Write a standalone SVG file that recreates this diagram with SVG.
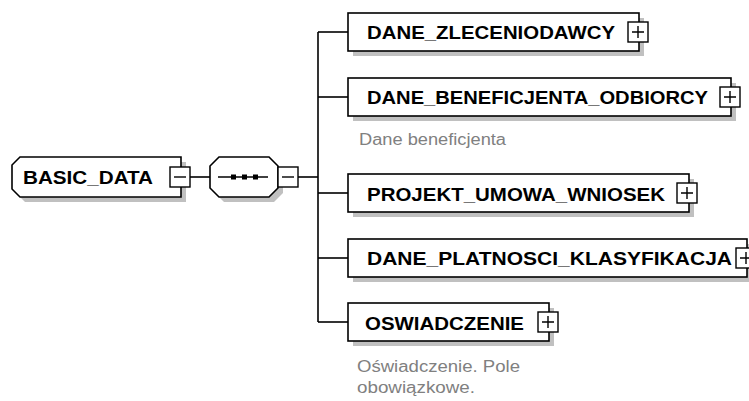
<svg xmlns="http://www.w3.org/2000/svg" width="749" height="401" viewBox="0 0 749 401">
<style>
.shadow{fill:#c0c0c0;stroke:none}
.box{fill:#ffffff;stroke:#000000;stroke-width:1.6}
.btn{fill:#ffffff;stroke:#000000;stroke-width:1.4}
.sym{stroke:#000000;stroke-width:1.4;fill:none}
.lbl{font-family:"Liberation Sans",Arial,sans-serif;font-weight:bold;font-size:19px;fill:#000000}
.doc{font-family:"Liberation Sans",Arial,sans-serif;font-size:16px;fill:#808080}
.conn{stroke:#000000;stroke-width:1.6;fill:none}
</style>
<rect width="749" height="401" fill="#ffffff"/>
<g id="connectors">
<line class="conn" x1="190" y1="177" x2="210" y2="177"/>
<line class="conn" x1="298" y1="177" x2="318" y2="177"/>
<line class="conn" x1="318" y1="32" x2="318" y2="322"/>
<line class="conn" x1="318" y1="32" x2="348" y2="32"/>
<line class="conn" x1="318" y1="97" x2="348" y2="97"/>
<line class="conn" x1="318" y1="193" x2="348" y2="193"/>
<line class="conn" x1="318" y1="258" x2="348" y2="258"/>
<line class="conn" x1="318" y1="322" x2="348" y2="322"/>
</g>
<g id="basic_data">
<path class="shadow" d="M25,162 H186 V202 H25 L17,194 V170 Z"/>
<path class="box" d="M20,157 H181 V197 H20 L12,189 V165 Z"/>
<text class="lbl" x="23" y="184" textLength="130" lengthAdjust="spacingAndGlyphs">BASIC_DATA</text>
<rect class="btn" x="170" y="167" width="20" height="20"/>
<line class="sym" x1="174" y1="177" x2="186" y2="177"/>
</g>
<g id="sequence">
<path class="shadow" d="M224,162 H274 L283,171 V193 L274,202 H224 L215,193 V171 Z"/>
<path class="box" d="M219,157 H269 L278,166 V188 L269,197 H219 L210,188 V166 Z"/>
<line class="sym" x1="218" y1="177" x2="268" y2="177"/>
<rect x="231" y="174.5" width="5" height="5" fill="#000"/>
<rect x="242" y="174.5" width="5" height="5" fill="#000"/>
<rect x="253" y="174.5" width="5" height="5" fill="#000"/>
<rect class="btn" x="278" y="167" width="20" height="20"/>
<line class="sym" x1="282" y1="177" x2="294" y2="177"/>
</g>
<g id="dane_zleceniodawcy">
<rect class="shadow" x="353" y="18" width="291" height="38"/>
<rect class="box" x="348" y="13" width="291" height="38"/>
<text class="lbl" x="367" y="39" textLength="248" lengthAdjust="spacingAndGlyphs">DANE_ZLECENIODAWCY</text>
<rect class="btn" x="628" y="22" width="20" height="20"/>
<path class="sym" d="M632,32 H644 M638,26 V38"/>
</g>
<g id="dane_beneficjenta_odbiorcy">
<rect class="shadow" x="353" y="83" width="383" height="38"/>
<rect class="box" x="348" y="78" width="383" height="38"/>
<text class="lbl" x="367" y="104" textLength="341" lengthAdjust="spacingAndGlyphs">DANE_BENEFICJENTA_ODBIORCY</text>
<rect class="btn" x="720" y="87" width="20" height="20"/>
<path class="sym" d="M724,97 H736 M730,91 V103"/>
<text class="doc" x="359" y="145" textLength="147" lengthAdjust="spacingAndGlyphs">Dane beneficjenta</text>
</g>
<g id="projekt_umowa_wniosek">
<rect class="shadow" x="353" y="179" width="341" height="38"/>
<rect class="box" x="348" y="174" width="341" height="38"/>
<text class="lbl" x="367" y="201" textLength="298" lengthAdjust="spacingAndGlyphs">PROJEKT_UMOWA_WNIOSEK</text>
<rect class="btn" x="677" y="183" width="20" height="20"/>
<path class="sym" d="M681,193 H693 M687,187 V199"/>
</g>
<g id="dane_platnosci_klasyfikacja">
<rect class="shadow" x="353" y="244" width="399" height="38"/>
<rect class="box" x="348" y="239" width="399" height="38"/>
<text class="lbl" x="367" y="265" textLength="365" lengthAdjust="spacingAndGlyphs">DANE_PLATNOSCI_KLASYFIKACJA</text>
<rect class="btn" x="736" y="248" width="20" height="20"/>
<path class="sym" d="M740,258 H752 M746,252 V264"/>
</g>
<g id="oswiadczenie">
<rect class="shadow" x="353" y="308" width="201" height="38"/>
<rect class="box" x="348" y="303" width="201" height="38"/>
<text class="lbl" x="365" y="330" textLength="159" lengthAdjust="spacingAndGlyphs">OSWIADCZENIE</text>
<rect class="btn" x="538" y="312" width="20" height="20"/>
<path class="sym" d="M542,322 H554 M548,316 V328"/>
<text class="doc" x="357" y="372" textLength="163" lengthAdjust="spacingAndGlyphs">Oświadczenie. Pole</text>
<text class="doc" x="357" y="393" textLength="118" lengthAdjust="spacingAndGlyphs">obowiązkowe.</text>
</g>
</svg>
